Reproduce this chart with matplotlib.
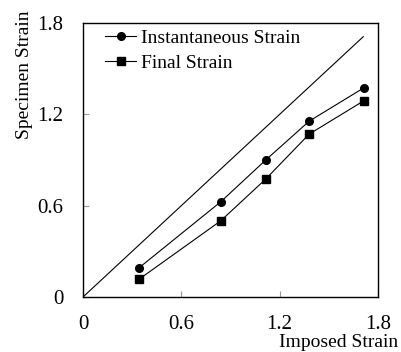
import matplotlib
matplotlib.use('Agg')
import matplotlib.pyplot as plt

plt.rcParams.update({
    'font.family': 'Liberation Serif',
    'font.size': 14,
})

# ── Data ─────────────────────────────────────────────────────────
imposed       = [0.34, 0.84, 1.115, 1.38, 1.715]
instantaneous = [0.19, 0.625, 0.90, 1.155, 1.375]
final         = [0.115, 0.50, 0.775, 1.07, 1.29]
diag          = [0, 1.71]

xticks = [0, 0.6, 1.2, 1.8]
yticks = [0, 0.6, 1.2, 1.8]
ticklabels = ['0', '0.6', '1.2', '1.8']

fig = plt.figure(figsize=(4.02, 3.52), dpi=100)
ax = fig.add_axes([83/402, 1 - 297/352, 295/402, 274/352])

ax.plot(diag, diag, color='black', lw=0.8)
ax.plot(imposed, instantaneous, color='black', lw=0.8, marker='o', ms=5.5,
        label='Instantaneous Strain')
ax.plot(imposed, final, color='black', lw=0.8, marker='s', ms=5.5,
        label='Final Strain')

ax.set_xlim(0, 1.8)
ax.set_ylim(0, 1.8)
ax.set_xticks(xticks)
ax.set_yticks(yticks)
ax.set_xticklabels(ticklabels, fontsize=15)
ax.set_yticklabels(ticklabels, fontsize=15)
ax.tick_params(direction='in', length=4, color='#999999', width=0.8)
ax.tick_params(axis='x', pad=13)
ax.tick_params(axis='y', pad=14)
for s in ax.spines.values():
    s.set_linewidth(1.0)

fig.text(25/402, 1 - 75/352, 'Specimen Strain', rotation=90,
         ha='center', va='center', fontsize=14)
fig.text(398/402, 1 - 351/352, 'Imposed Strain', ha='right', va='bottom',
         fontsize=14)

ax.legend(loc='upper left', bbox_to_anchor=(105/402, 1 - 29/352),
          bbox_transform=fig.transFigure, frameon=False,
          handlelength=1.6, handletextpad=0.25, labelspacing=0.4,
          borderaxespad=0, borderpad=0)

fig.savefig('out.png', dpi=100)
